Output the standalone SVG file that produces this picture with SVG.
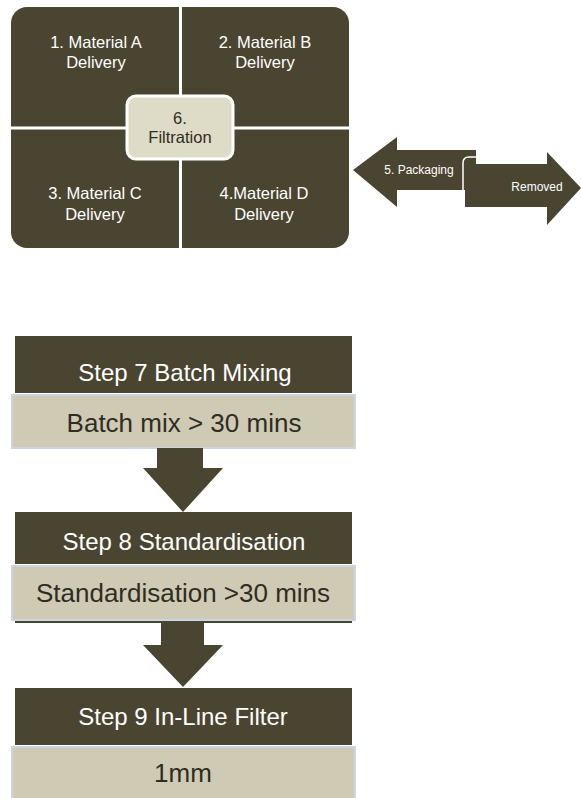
<svg xmlns="http://www.w3.org/2000/svg" width="581" height="798" viewBox="0 0 581 798">
<style>
.dark{fill:#4a4530}
.light{fill:#cfcab4;stroke:#cad4e4;stroke-width:2}
.wt{fill:#ffffff;font-family:"Liberation Sans",Arial,sans-serif;text-anchor:middle}
.dt{fill:#2f2d22;font-family:"Liberation Sans",Arial,sans-serif;text-anchor:middle}
.q{font-size:16.5px}
.title{font-size:24px}
.body{font-size:26px}
.small{font-size:12px}
</style>
<rect width="581" height="798" fill="#ffffff"/>
<g id="matrix">
<rect x="11" y="7" width="338" height="241" rx="16" class="dark"/>
<line x1="180.5" y1="7" x2="180.5" y2="248" stroke="#ffffff" stroke-width="3"/>
<line x1="11" y1="128" x2="349" y2="128" stroke="#ffffff" stroke-width="3"/>
</g>
<g id="node1"><text class="wt q" x="96" y="48">1. Material A</text><text class="wt q" x="96" y="68">Delivery</text></g>
<g id="node2"><text class="wt q" x="265" y="48">2. Material B</text><text class="wt q" x="265" y="68">Delivery</text></g>
<g id="node3"><text class="wt q" x="95" y="199">3. Material C</text><text class="wt q" x="95" y="220">Delivery</text></g>
<g id="node4"><text class="wt q" x="264" y="199">4.Material D</text><text class="wt q" x="264" y="220">Delivery</text></g>
<g id="node6">
<rect x="127" y="96" width="106" height="63" rx="9" fill="#dedbc6" stroke="#ffffff" stroke-width="3"/>
<text class="dt q" x="180" y="124">6.</text><text class="dt q" x="180" y="143">Filtration</text>
</g>
<g id="node5">
<path class="dark" d="M353,170 L397,137 L397,150 L476,150 L476,190 L397,190 L397,207 Z"/>
<text class="wt small" x="419" y="174">5. Packaging</text>
</g>
<g id="removed">
<path class="dark" d="M465,164 L547,164 L547,152 L581,188 L547,225 L547,207 L465,207 Z"/>
<path d="M463,208 L463,163 Q463,157 469,157 L477,157" fill="none" stroke="#ffffff" stroke-width="1.5"/>
<text class="wt small" x="537" y="191">Removed</text>
</g>
<g id="step7">
<rect x="15" y="336" width="337" height="57" class="dark"/>
<text class="wt title" x="185" y="381">Step 7 Batch Mixing</text>
<rect x="12" y="395" width="343" height="53" class="light"/>
<text class="dt body" x="184" y="432">Batch mix &gt; 30 mins</text>
</g>
<g id="step8">
<rect x="15" y="512" width="337" height="52" class="dark"/>
<text class="wt title" x="184" y="550">Step 8 Standardisation</text>
<rect x="12" y="566" width="343" height="54" class="light"/>
<line x1="15" y1="622" x2="352" y2="622" stroke="#4a4530" stroke-width="2"/>
<text class="dt body" x="183" y="602">Standardisation &gt;30 mins</text>
</g>
<g id="step9">
<rect x="15" y="688" width="337" height="57" class="dark"/>
<text class="wt title" x="183" y="725">Step 9 In-Line Filter</text>
<rect x="12" y="747" width="343" height="60" class="light"/>
<text class="dt body" x="183" y="782">1mm</text>
</g>
<g id="connectors">
<path class="dark" d="M157,448 L203,448 L203,468 L223,468 L183,512 L143,468 L157,468 Z"/>
<path class="dark" d="M161,623 L204,623 L204,645 L223,645 L183,687 L143,645 L161,645 Z"/>
</g>
</svg>
